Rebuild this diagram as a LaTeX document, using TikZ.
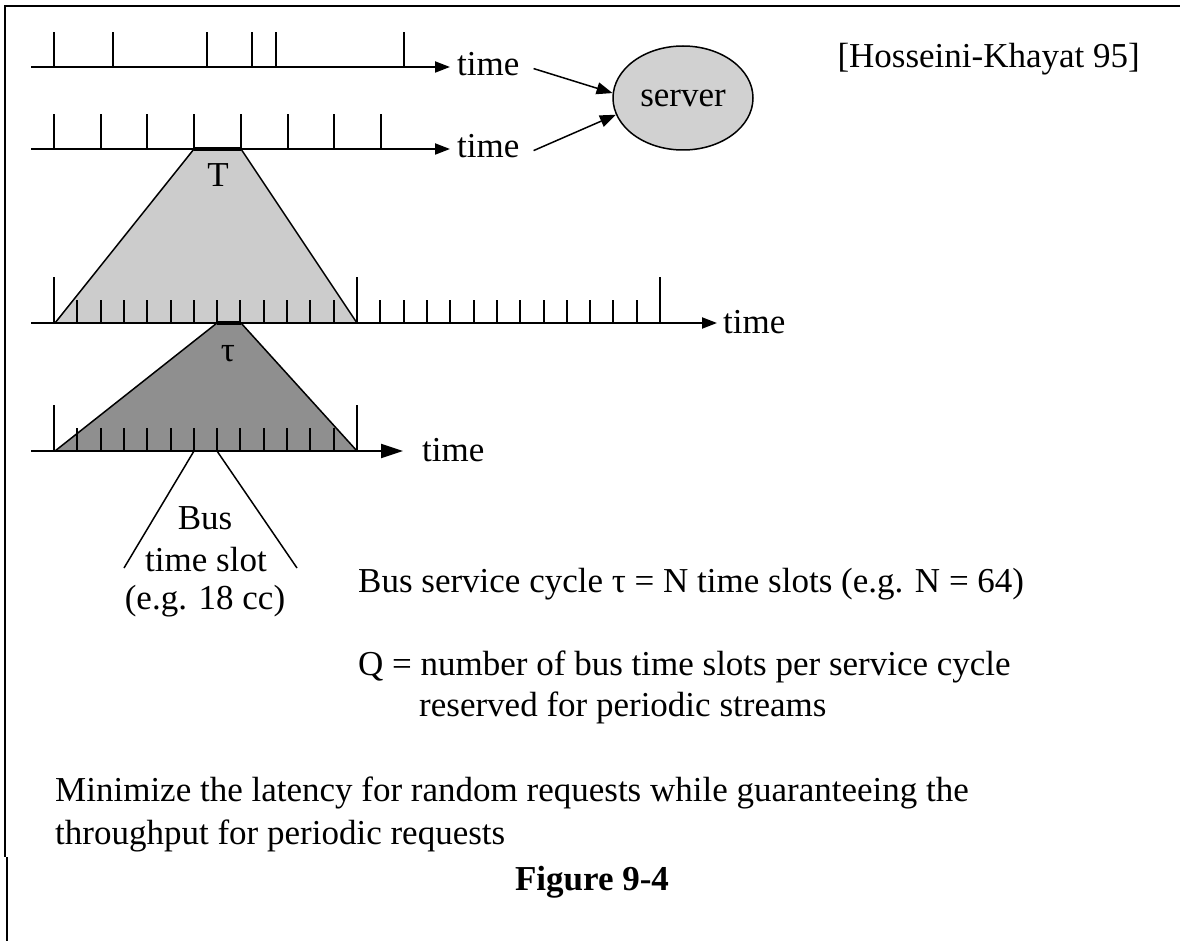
\documentclass[tikz,border=0pt]{standalone}
\usepackage{fontspec}
\setmainfont{Liberation Serif}
\usetikzlibrary{arrows.meta,shapes.geometric}
\definecolor{slotfill}{gray}{0.80}
\definecolor{cyclefill}{gray}{0.56}
\definecolor{serverfill}{gray}{0.82}
\newcommand\txtsize{\fontsize{35}{42}\selectfont}

\begin{document}
\begin{tikzpicture}[x=1pt,y=-1pt,
  axis/.style={line width=2pt,-{Triangle[length=15pt,width=11pt]}},
  axisbig/.style={line width=2pt,-{Triangle[length=22pt,width=14pt]}},
  tickline/.style={line width=2pt},
  edge/.style={line width=1.5pt},
  conn/.style={line width=1.5pt,-{Triangle[length=16pt,width=12pt]}},
  lbl/.style={inner sep=0pt,font=\txtsize},
  frame/.style={line width=2.5pt}]
\useasboundingbox (0,0) rectangle (1180,941);

% page frame
\draw[frame] (1180,6) -- (5,6) -- (5,857);
\draw[frame] (7,857) -- (7,941);

% shaded periods
\fill[slotfill] (194,149) -- (241,149) -- (357,323) -- (55,323) -- cycle;
\fill[cyclefill] (217,323) -- (241,323) -- (357,451) -- (55,451) -- cycle;

% random request stream
\draw[axis] (31,67) -- (450,67);
\foreach \x in {54,113,207,252,276,404} \draw[tickline] (\x,67) -- (\x,32);
\node[lbl,anchor=base west] (t1) at (457,76) {time};

% periodic request stream
\draw[axis] (31,149) -- (450,149);
\foreach \k in {0,...,7} {
  \pgfmathsetmacro\xx{54+\k*46.7}
  \draw[tickline] (\xx,149) -- (\xx,114);
}
\node[lbl,anchor=base west] (t2) at (457,158) {time};

% service cycles on the bus
\draw[axis] (31,323) -- (717,323);
\foreach \k in {0,...,26} {
  \pgfmathsetmacro\xx{54+\k*23.31}
  \pgfmathsetmacro\tp{mod(\k,13)==0 ? 277 : 300}
  \draw[tickline] (\xx,323) -- (\xx,\tp);
}
\node[lbl,anchor=base west] (t3) at (723,333) {time};

% bus time slots
\draw[axisbig] (31,451) -- (403,451);
\foreach \k in {0,...,13} {
  \pgfmathsetmacro\xx{54+\k*23.31}
  \pgfmathsetmacro\tp{mod(\k,13)==0 ? 405 : 428}
  \draw[tickline] (\xx,451) -- (\xx,\tp);
}
\node[lbl,anchor=base west] (t4) at (422,461) {time};

% outlines of the expanded periods
\draw[edge] (55,323) -- (194,149) -- (241,149) -- (357,323);
\draw[line width=3.5pt] (194,149) -- (241,149);
\draw[edge] (55,451) -- (217,323) -- (241,323) -- (357,451);
\draw[line width=3.5pt] (217,323) -- (241,323);
\node[lbl,anchor=base] (per) at (218,187) {T};
\node[lbl,anchor=base] (cyc) at (228,361) {τ};

% one bus time slot
\coordinate (sl) at (194,451);
\coordinate (sr) at (217,451);
\coordinate (el) at (124,568);
\coordinate (er) at (297,568);
\draw[edge] (sl) -- (el);
\draw[edge] (sr) -- (er);
\node[lbl,anchor=base] (bus1) at (205,529) {Bus};
\node[lbl,anchor=base] (bus2) at (206,571) {time slot};
\node[lbl,anchor=base] (bus3) at (205,609) {(e.g. 18 cc)};

% server
\node[ellipse,draw,fill=serverfill,line width=1.5pt,minimum width=140pt,
      minimum height=104pt,inner sep=0pt,font=\txtsize] (server) at (683,98) {server};
\draw[conn] ([xshift=14pt,yshift=-4pt]t1.east) -- (server.176);
\draw[conn] ([xshift=14pt,yshift=-4pt]t2.east) -- (server.194);

\node[lbl,anchor=base east] (ref) at (1140,68) {[Hosseini-Khayat 95]};

% explanations
\node[lbl,anchor=base west] (n1) at (358,592) {Bus service cycle τ = N time slots (e.g. N = 64)};
\node[lbl,anchor=base west] (n2) at (358,675) {Q = number of bus time slots per service cycle};
\node[lbl,anchor=base west] (n3) at (419,716) {reserved for periodic streams};
\node[lbl,anchor=base west] (g1) at (55,801) {Minimize the latency for random requests while guaranteeing the};
\node[lbl,anchor=base west] (g2) at (55,844) {throughput for periodic requests};
\node[lbl,anchor=base,font=\txtsize\bfseries] (cap) at (592,890) {Figure 9-4};
\end{tikzpicture}
\end{document}
